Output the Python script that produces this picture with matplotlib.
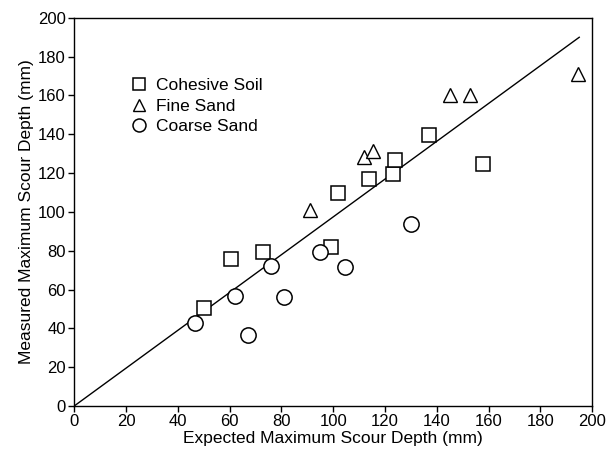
import matplotlib
matplotlib.use("Agg")
import matplotlib.pyplot as plt

plt.rcParams['font.family'] = ['Liberation Sans', 'DejaVu Sans']

# Cohesive soil (squares)
cohesive_x = [50, 60.5, 73, 99, 102, 114, 123, 124, 137, 158]
cohesive_y = [50.5, 76, 79.5, 82, 110, 117, 119.5, 127, 139.5, 124.5]

# Fine sand (triangles)
fine_x = [91, 112, 115.5, 145, 153, 194.5]
fine_y = [101, 128.5, 131.5, 160, 160, 171]

# Coarse sand (circles)
coarse_x = [46.5, 62, 67, 76, 81, 95, 104.5, 130]
coarse_y = [43, 56.5, 36.5, 72, 56, 79.5, 71.5, 94]

# reference line
line_x = [0, 195]
line_y = [0, 190]

ticks = [0, 20, 40, 60, 80, 100, 120, 140, 160, 180, 200]

fig = plt.figure(figsize=(6.08, 4.58), dpi=100)
ax = fig.add_axes([0.122, 0.1135, 0.852, 0.8475])

ax.plot(line_x, line_y, color='black', linewidth=1.0)
ax.plot(cohesive_x, cohesive_y, 's', markersize=10, markerfacecolor='white',
        markeredgecolor='black', markeredgewidth=1.1, label='Cohesive Soil')
ax.plot(fine_x, fine_y, '^', markersize=10, markerfacecolor='white',
        markeredgecolor='black', markeredgewidth=1.0, label='Fine Sand')
ax.plot(coarse_x, coarse_y, 'o', markersize=11, markerfacecolor='white',
        markeredgecolor='black', markeredgewidth=1.1, label='Coarse Sand')

ax.set_xlim(0, 200)
ax.set_ylim(0, 200)
ax.set_xticks(ticks)
ax.set_yticks(ticks)
ax.tick_params(direction='out', length=4, width=1, labelsize=12, pad=2)
for sp in ax.spines.values():
    sp.set_linewidth(1.0)

ax.set_xlabel('Expected Maximum Scour Depth (mm)', fontsize=12.5, labelpad=1)
ax.set_ylabel('Measured Maximum Scour Depth (mm)', fontsize=12.5, labelpad=3)

ax.legend(loc='upper left', bbox_to_anchor=(0.075, 0.885), frameon=False,
          fontsize=12.5, handletextpad=0.4, labelspacing=0.3, markerscale=0.85,
          handlelength=1.2)

fig.savefig('out.png', dpi=100)
